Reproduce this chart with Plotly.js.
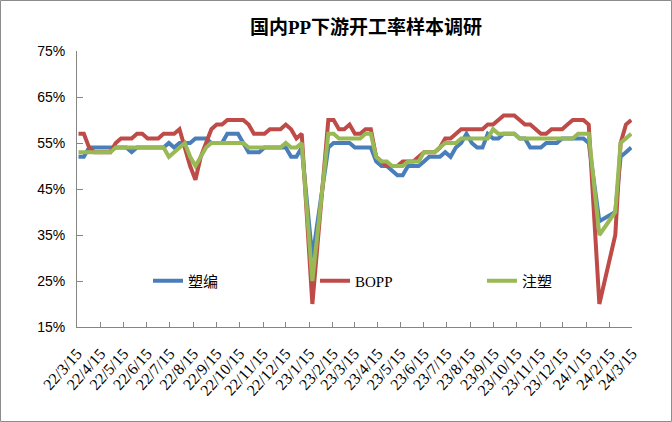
<!DOCTYPE html>
<html>
<head>
<meta charset="utf-8">
<script src="https://cdn.plot.ly/plotly-3.0.1.min.js"></script>
<style>
html,body{margin:0;padding:0;background:#fff;}
#chart{width:672px;height:422px;}
</style>
</head>
<body>
<div id="chart"></div>
<script>
const dates = [
"2022-03-17","2022-03-24","2022-03-31","2022-04-07","2022-04-14","2022-04-21","2022-04-28","2022-05-05","2022-05-12","2022-05-19",
"2022-05-26","2022-06-02","2022-06-09","2022-06-16","2022-06-23","2022-06-30","2022-07-07","2022-07-14","2022-07-21","2022-07-28",
"2022-08-04","2022-08-11","2022-08-18","2022-08-25","2022-09-01","2022-09-08","2022-09-15","2022-09-22","2022-09-29","2022-10-06",
"2022-10-13","2022-10-20","2022-10-27","2022-11-03","2022-11-10","2022-11-17","2022-11-24","2022-12-01","2022-12-08","2022-12-15",
"2022-12-22","2022-12-29","2023-01-05","2023-01-19","2023-02-09","2023-02-16","2023-02-23","2023-03-02","2023-03-09","2023-03-16",
"2023-03-23","2023-03-30","2023-04-06","2023-04-13","2023-04-20","2023-04-27","2023-05-04","2023-05-11","2023-05-18","2023-05-25",
"2023-06-01","2023-06-08","2023-06-15","2023-06-22","2023-06-29","2023-07-06","2023-07-13","2023-07-20","2023-07-27","2023-08-03",
"2023-08-10","2023-08-17","2023-08-24","2023-08-31","2023-09-07","2023-09-14","2023-09-21","2023-09-28","2023-10-05","2023-10-12",
"2023-10-19","2023-10-26","2023-11-02","2023-11-09","2023-11-16","2023-11-23","2023-11-30","2023-12-07","2023-12-14","2023-12-21",
"2023-12-28","2024-01-04","2024-01-11","2024-01-18","2024-02-01","2024-02-22","2024-02-29","2024-03-07","2024-03-14"
];
const suBian = [
52,52,54,54,54,54,54,54,54,54,
53,54,54,54,54,54,54,55,54,55,
55,55,56,56,56,55,55,55,57,57,
57,55,53,53,53,54,54,54,54,54,
52,52,54,30,54,55,55,55,55,54,
54,54,54,51,50,50,49,48,48,50,
50,50,51,52,52,52,53,52,54,55,
57,55,54,54,57,56,56,57,57,57,
56,56,54,54,54,55,55,55,56,56,
56,56,56,55,38,40,52,53,54
];
const bopp = [
57,57,54,53,53,53,53,55,56,56,
56,57,57,56,56,56,57,57,57,58,
54,50,47,52,55,58,59,59,60,60,
60,60,59,57,57,57,58,58,58,59,
58,56,57,20,60,60,58,58,59,57,
57,58,58,52,51,50,50,50,51,51,
51,52,53,53,53,54,56,56,57,58,
58,58,58,58,59,59,60,61,61,61,
60,59,59,58,57,57,58,58,58,59,
60,60,60,59,20,35,55,59,60
];
const zhuSu = [
53,53,53,53,53,53,53,54,54,54,
54,54,54,54,54,54,54,52,53,54,
55,52,50,52,54,55,55,55,55,55,
55,55,54,54,54,54,54,54,54,55,
54,54,55,25,57,57,56,56,56,56,
56,57,57,52,51,51,50,50,50,51,
51,51,53,53,53,54,55,55,55,56,
56,56,56,56,56,58,57,57,57,57,
56,56,56,56,56,56,56,56,56,56,
56,57,57,57,35,40,55,56,57
];
const seriesNames = ["塑编","BOPP","注塑"];
const seriesColors = ["#4A7EBB","#BE4B48","#98B954"];
const yTicks = [15,25,35,45,55,65,75];
const yTickText = ["15%","25%","35%","45%","55%","65%","75%"];

const L = 77, R = 40, T = 51, B = 95;
const W = 672 - L - R, H = 422 - T - B;

const traces = [suBian, bopp, zhuSu].map((vals, i) => ({
  type: "scatter", mode: "lines", x: dates, y: vals, name: seriesNames[i],
  line: {color: seriesColors[i], width: 4}
}));

const layout = {
  width: 672, height: 422,
  margin: {l: L, r: R, t: T, b: B},
  paper_bgcolor: "#fff", plot_bgcolor: "#fff",
  showlegend: true,
  title: {
    text: "<b>国内PP下游开工率样本调研</b>",
    font: {family: "Liberation Serif, Noto Sans CJK SC", size: 19, color: "#000"},
    x: 366/672, xref: "container", xanchor: "center",
    y: 1 - 27/422, yref: "container", yanchor: "middle"
  },
  xaxis: {
    type: "date",
    range: ["2022-03-15", "2024-03-15"],
    tick0: "2022-03-15", dtick: "M1",
    tickformat: "%y/%-m/%d",
    tickangle: -48,
    ticks: "inside", ticklen: 5, tickcolor: "#868686",
    showline: true, linecolor: "#868686", linewidth: 1,
    showgrid: false, zeroline: false,
    ticklabelstandoff: 10,
    tickfont: {family: "Liberation Serif", size: 16, color: "#000"}
  },
  yaxis: {
    range: [15, 75], tickvals: yTicks, ticktext: yTickText,
    ticks: "inside", ticklen: 6, tickcolor: "#868686",
    showline: true, linecolor: "#868686", linewidth: 1,
    showgrid: false, zeroline: false,
    ticklabelstandoff: 8,
    tickfont: {family: "Liberation Sans Narrow, Liberation Sans", size: 14, color: "#000"}
  },
  legend: {
    orientation: "h",
    x: (148 - L) / W, xanchor: "left",
    y: (327 - 281) / H, yanchor: "middle",
    bgcolor: "rgba(0,0,0,0)",
    entrywidth: 122, entrywidthmode: "pixels",
    font: {family: "Liberation Serif, Noto Sans CJK SC", size: 15, color: "#000"}
  },
  shapes: [{
    type: "rect", xref: "paper", yref: "paper",
    x0: (0.5 - L) / W, x1: (671.5 - L) / W,
    y0: (327 - 421.5) / H, y1: (327 - 0.5) / H,
    line: {color: "#8C8C8C", width: 1}, fillcolor: "rgba(0,0,0,0)", layer: "below"
  }]
};

Plotly.newPlot("chart", traces, layout, {staticPlot: true, displayModeBar: false});
</script>
</body>
</html>
